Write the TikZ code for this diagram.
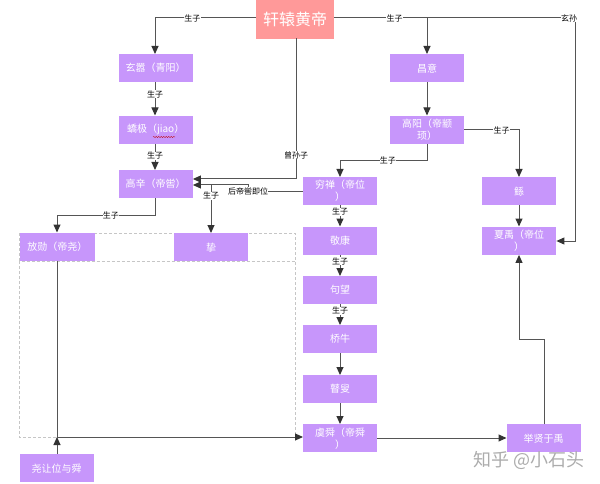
\documentclass[tikz,border=0pt]{standalone}
\usepackage{fontspec}
\setmainfont{Noto Sans CJK SC}
\usetikzlibrary{arrows.meta,decorations.pathmorphing}
\definecolor{boxc}{HTML}{C796FB}
\definecolor{topc}{HTML}{FF9999}
\definecolor{linec}{HTML}{555555}
\definecolor{tipc}{HTML}{333333}
\tikzset{
  person/.style={draw=none,fill=boxc,text=white,minimum width=74pt,minimum height=28pt,inner sep=0pt,text width=72pt,align=center,font=\fontsize{10pt}{12pt}\selectfont,anchor=north west},
  root/.style={draw=none,fill=topc,text=white,minimum width=78pt,minimum height=38.5pt,inner sep=0pt,font=\fontsize{16pt}{18pt}\selectfont,anchor=north west},
  conn/.style={draw=linec,line width=1pt},
  arr/.style={conn,-{Triangle[length=8pt,width=7pt,color=tipc]}},
  lbl/.style={fill=white,text=black,inner sep=0.3pt,font=\fontsize{8pt}{9pt}\selectfont},
  frame/.style={draw=gray!45,densely dashed,line width=0.5pt}
}
\begin{document}
\begin{tikzpicture}[x=1pt,y=-1pt]
\useasboundingbox (0,0) rectangle (600,484);
% dashed frames
\draw[frame] (19.5,233) rectangle (295,261);
\draw[frame] (19.5,261) -- (19.5,437.5) -- (295,437.5) -- (295,261);
% nodes
\node[root] (hd) at (256,0) {轩辕黄帝};
\node[person] (xx) at (118.5,54) {玄嚣（青阳）};
\node[person] (jj) at (118.5,115.5) {蟜极（jiao）};
\node[person] (gx) at (118.5,170) {高辛（帝喾）};
\node[person,minimum width=75.5pt] (fx) at (19.5,232.5) {放勋（帝尧）};
\node[person] (zhi) at (174,233) {挚};
\node[person] (cy) at (390,54) {昌意};
\node[person] (gy) at (390,115.5) {高阳（帝颛\\顼）};
\node[person] (qc) at (303,177) {穷禅（帝位\\）};
\node[person] (jk) at (303,226.5) {敬康};
\node[person] (jw) at (303,276) {句望};
\node[person] (qn) at (303,325) {桥牛};
\node[person] (gs) at (303,375) {瞽叟};
\node[person] (ys) at (303,424) {虞舜（帝舜\\）};
\node[person] (gun) at (482,177) {鲧};
\node[person] (xy) at (482,226.5) {夏禹（帝位\\）};
\node[person] (jx) at (506.5,424) {举贤于禹};
\node[person] (yr) at (19.5,454) {尧让位与舜};
% wavy underline
\draw[red!75!black,line width=0.4pt,decorate,decoration={snake,amplitude=0.5pt,segment length=2.5pt}] (153,137) -- (175,137);
% junctions
\coordinate (m) at (57,437);
\coordinate (t1) at (155,18);
\coordinate (t2) at (427,18);
\coordinate (t3) at (575,18);
% connectors
\draw[arr] (hd.west |- t1) -- node[lbl,pos=0.63]{生子} (t1) -- (xx.north -| t1);
\draw[arr] (hd.east |- t2) -- node[lbl,pos=0.65]{生子} (t2) -- (cy.north -| t2);
\draw[arr] (t2) -- node[lbl,pos=0.96]{玄孙} (t3) -- (575,241) -- (xy.east |- 0,241);
\draw[arr] (296,38.5) -- node[lbl,pos=0.83]{曾孙子} (296,179) -- (gx.east |- 0,179);
\draw[arr] (qc.west |- 0,191.5) -- (248,191.5) -- (248,185) -- (gx.east |- 0,185);
\node[lbl] (hl) at (248,191.5) {后帝喾即位};
\draw[arr] (211,185) -- node[lbl,pos=0.22]{生子} (zhi.north -| 211,0);
\draw[arr] (xx.south -| 155,0) -- node[lbl,pos=0.35]{生子} (jj.north -| 155,0);
\draw[arr] (jj.south -| 155,0) -- node[lbl,pos=0.45]{生子} (gx.north -| 155,0);
\draw[arr] (gx.south -| 155,0) -- (155,215) -- node[lbl,pos=0.45]{生子} (57,215) -- (fx.north -| 57,0);
\draw[arr] (cy.south -| 427,0) -- (gy.north -| 427,0);
\draw[arr] (gy.south -| 427,0) -- (427,160.5) -- node[lbl,pos=0.45]{生子} (340,160.5) -- (qc.north -| 340,0);
\draw[arr] (gy.east |- 0,130) -- node[lbl,pos=0.68]{生子} (519,130) -- (gun.north -| 519,0);
\draw[arr] (qc.south -| 340,0) -- node[lbl,pos=0.3]{生子} (jk.north -| 340,0);
\draw[arr] (jk.south -| 340,0) -- node[lbl,pos=0.3]{生子} (jw.north -| 340,0);
\draw[arr] (jw.south -| 340,0) -- node[lbl,pos=0.3]{生子} (qn.north -| 340,0);
\draw[arr] (qn.south -| 340,0) -- (gs.north -| 340,0);
\draw[arr] (gs.south -| 340,0) -- (ys.north -| 340,0);
\draw[arr] (gun.south -| 519,0) -- (xy.north -| 519,0);
\draw[conn] (fx.south -| 57,0) -- (m);
\draw[arr] (yr.north -| m) -- (m);
\draw[arr] (m) -- (ys.west |- m);
\draw[arr] (ys.east |- 0,438) -- (jx.west |- 0,438);
\draw[arr] (jx.north -| 544,0) -- (544,339.5) -- (519,339.5) -- (xy.south -| 519,0);
% watermark
\node[text=gray!65,inner sep=0pt,font=\fontsize{18pt}{20pt}\selectfont] (wm) at (529,460) {知乎 @小石头};
\end{tikzpicture}
\end{document}
